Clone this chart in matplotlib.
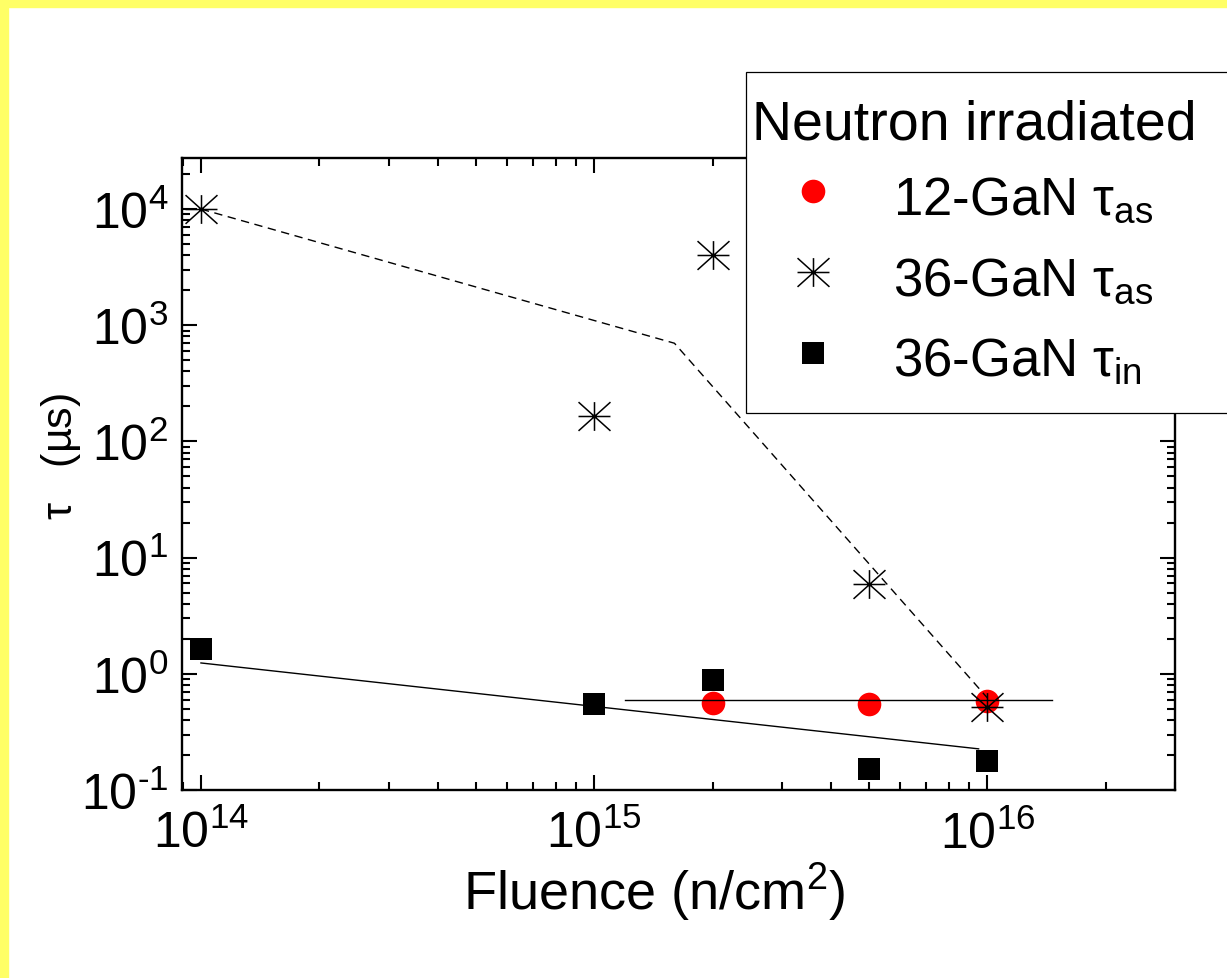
import numpy as np
import matplotlib
matplotlib.use('Agg')
import matplotlib.pyplot as plt
from matplotlib.path import Path
from matplotlib.patches import Rectangle
from matplotlib.ticker import LogLocator, FuncFormatter, NullFormatter

plt.rcParams['font.family'] = ['Liberation Sans', 'DejaVu Sans']
plt.rcParams['mathtext.fontset'] = 'custom'
plt.rcParams['mathtext.rm'] = 'Liberation Sans'
plt.rcParams['mathtext.it'] = 'Liberation Sans:italic'

# 12-GaN, asymptotic lifetime
gan12_x = [2e15, 5e15, 1e16]
gan12_as = [0.56, 0.55, 0.58]

# 36-GaN, asymptotic lifetime
gan36_x = [1e14, 1e15, 2e15, 5e15, 1e16]
gan36_as = [1.0e4, 165, 4.0e3, 5.9, 0.52]

# 36-GaN, initial lifetime
gan36_in = [1.65, 0.55, 0.89, 0.152, 0.178]

# guide lines
dash_x = [1e14, 1.6e15, 1e16]
dash_y = [1.0e4, 700, 0.62]
fit_in_x = [1e14, 9.5e15]
fit_in_y = [1.24, 0.226]
flat_x = [1.2e15, 1.46e16]
flat_y = [0.6, 0.6]

W, H = 1227, 979
fig = plt.figure(figsize=(W / 100, H / 100), dpi=100)
fig.patches.append(Rectangle((0, 1 - 8 / H), 1, 8 / H, transform=fig.transFigure,
                             color='#ffff66', zorder=0))
fig.patches.append(Rectangle((0, 0), 8 / W, 1, transform=fig.transFigure,
                             color='#ffff66', zorder=0))

ax = fig.add_axes([182 / W, 1 - 791 / H, 993 / W, 632 / H])

# 8-spoke asterisk marker
star = Path([(-1, 0), (1, 0), (0, -0.9), (0, 0.9),
             (-1, -0.9), (1, 0.9), (-1, 0.9), (1, -0.9)],
            [Path.MOVETO, Path.LINETO] * 4)

ax.plot(gan12_x, gan12_as, 'o', color='red', markersize=17, markeredgewidth=0,
        zorder=2, label=r'12-GaN $\mathregular{\tau_{as}}$')
ax.plot(dash_x, dash_y, '--', color='black', lw=1.0, dashes=(6, 4), zorder=3)
ax.plot(fit_in_x, fit_in_y, '-', color='black', lw=1.0, zorder=3)
ax.plot(flat_x, flat_y, '-', color='black', lw=1.0, zorder=3)
ax.plot(gan36_x, gan36_as, linestyle='none', marker=star, color='black',
        markersize=23, markeredgewidth=1.1, zorder=4,
        label=r'36-GaN $\mathregular{\tau_{as}}$')
ax.plot(gan36_x, gan36_in, 's', color='black', markersize=16, markeredgewidth=0,
        zorder=4, label=r'36-GaN $\mathregular{\tau_{in}}$')

ax.set_xscale('log')
ax.set_yscale('log')
ax.set_xlim(8.95e13, 3.0e16)
ax.set_ylim(0.1, 2.75e4)


def pow10(v, pos):
    e = int(round(np.log10(v)))
    s = str(e) if e >= 0 else r'\text{-}' + str(-e)
    return r'$\mathregular{10^{%s}}$' % s


for a in (ax.xaxis, ax.yaxis):
    a.set_major_locator(LogLocator(base=10, numticks=20))
    a.set_minor_locator(LogLocator(base=10, subs=np.arange(2, 10), numticks=20))
    a.set_major_formatter(FuncFormatter(pow10))
    a.set_minor_formatter(NullFormatter())

ax.tick_params(which='both', direction='in', top=True, right=True, width=1.5,
               labelsize=36)
ax.tick_params(which='major', length=11)
ax.tick_params(which='minor', length=6)
ax.tick_params(axis='x', which='major', pad=14)
ax.tick_params(axis='y', which='major', pad=10)
for s in ax.spines.values():
    s.set_linewidth(1.7)

ax.set_xlabel(r'Fluence (n/cm$\mathregular{^2}$)', fontsize=39)
ax.xaxis.set_label_coords(0.476, -0.11)
ax.set_ylabel(r'$\mathregular{\tau}$   (µs)', fontsize=31)
ax.yaxis.set_label_coords(-0.10, 0.53)

# legend box, drawn by hand so it can run off the right edge like the original
fig.patches.append(Rectangle((746 / W, 1 - 414 / H), 600 / W, 341 / H,
                             transform=fig.transFigure, facecolor='white',
                             edgecolor='black', lw=0.9, zorder=5))
fig.text(752 / W, 1 - 125 / H, 'Neutron irradiated', fontsize=40,
         ha='left', va='center', zorder=6)
leg = fig.legend(loc='upper left', bbox_to_anchor=(760 / W, 1 - 170 / H),
                 fontsize=38, frameon=False, borderpad=0, borderaxespad=0,
                 handlelength=2.0, handletextpad=0.52, handleheight=1.2,
                 labelspacing=0.47)
leg.set_zorder(6)

fig.savefig('out.png', dpi=100)
